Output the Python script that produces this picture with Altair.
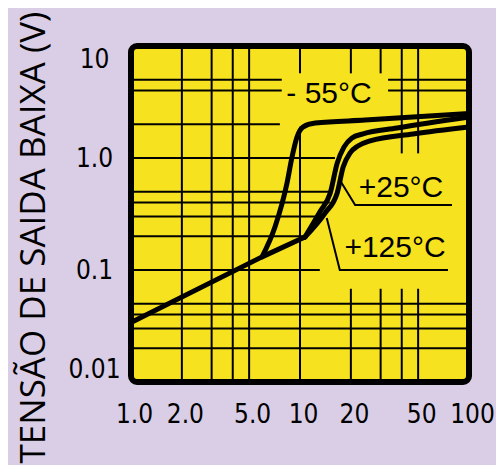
import altair as alt
import pandas as pd

# ---------------- data ----------------
x_tick_values = [1, 2, 5, 10, 20, 50, 100]
x_tick_labels = ["1.0", "2.0", "5.0", "10", "20", "50", "100"]
y_tick_values = [0.01, 0.1, 1, 10]
y_tick_labels = ["0.01", "0.1", "1.0", "10"]
y_title = "TENSÃO DE SAIDA BAIXA (V)"

# shared low-current straight part of all three curves
shared_x = [1.0, 5.96, 10.7]
shared_y = [0.034, 0.131, 0.197]
# branches
m55_x = [5.96, 7.11, 8.38, 8.97, 9.6, 10.4, 12.3, 24.3, 100]
m55_y = [0.131, 0.242, 0.598, 1.02, 1.54, 1.89, 2.05, 2.18, 2.5]
p25_x = [10.7, 13.1, 15.1, 16.6, 18.2, 20.3, 23.6, 37.5, 100]
p25_y = [0.197, 0.33, 0.487, 0.90, 1.25, 1.51, 1.64, 1.85, 2.32]
p125_x = [10.7, 14.1, 16.6, 18.0, 19.8, 22.0, 26.0, 46.7, 100]
p125_y = [0.197, 0.324, 0.487, 0.83, 1.11, 1.28, 1.42, 1.64, 1.89]

# grid segments (hand drawn chart: partial lines)
vgrid_x = [2, 3, 4, 5, 10, 10, 20, 20, 30, 30, 40, 40, 50, 50]
vgrid_y1 = [0.01, 0.01, 0.01, 0.01, 5.7, 0.01, 5.7, 0.01, 5.7, 0.01, 1.1, 0.01, 1.1, 0.01]
vgrid_y2 = [10, 10, 10, 10, 10, 1.9, 10, 0.068, 10, 0.068, 10, 0.068, 10, 0.068]
hgrid_y = [5, 5, 4, 4, 2, 1, 0.5, 0.4, 0.3, 0.2, 0.1, 0.05, 0.04, 0.03, 0.02]
hgrid_x1 = [1, 33.2, 1, 33.2, 1, 1, 1, 1, 1, 1, 1, 1, 1, 1, 1]
hgrid_x2 = [7.8, 100, 7.8, 100, 7.6, 16.1, 15.5, 15.0, 14.0, 10.7, 13.1, 100, 100, 100, 100]

# annotations
ann_text = ["- 55°C", "+25°C", "+125°C"]
ann_x = [14.85, 39.6, 36.5]
ann_y = [3.73, 0.539, 0.157]
lead25_x = [17.2, 21.2, 79.3]
lead25_y = [0.637, 0.38, 0.38]
lead125_x = [14.4, 17.2, 75.1]
lead125_y = [0.291, 0.1, 0.1]


def rows(name, xs_, ys_):
    return [(name, i, x, y) for i, (x, y) in enumerate(zip(xs_, ys_))]


# ---------------- tables ----------------
shared = pd.DataFrame(rows("shared", shared_x, shared_y), columns=["s", "o", "x", "y"])
branches = pd.DataFrame(
    rows("-55", m55_x, m55_y) + rows("+25", p25_x, p25_y) + rows("+125", p125_x, p125_y),
    columns=["s", "o", "x", "y"],
)
vgrid = pd.DataFrame({"x": vgrid_x, "y1": vgrid_y1, "y2": vgrid_y2})
hgrid = pd.DataFrame({"y": hgrid_y, "x1": hgrid_x1, "x2": hgrid_x2})
ann = pd.DataFrame({"t": ann_text, "x": ann_x, "y": ann_y})
leaders = pd.DataFrame(
    rows("a", lead25_x, lead25_y) + rows("b", lead125_x, lead125_y),
    columns=["s", "o", "x", "y"],
)


def label_expr(values, labels):
    e = "''"
    for v, l in reversed(list(zip(values, labels))):
        e = f"datum.value == {v} ? '{l}' : ({e})"
    return e


tick_font = "DejaVu Sans Condensed, Liberation Sans, sans-serif"
xs = alt.Scale(type="log", domain=[1, 100])
ys = alt.Scale(type="log", domain=[0.01, 10])

x_axis = alt.Axis(
    values=x_tick_values, labelExpr=label_expr(x_tick_values, x_tick_labels),
    title=None, grid=False, domain=False, ticks=False, tickSize=0,
    labelFont=tick_font, labelFontSize=26, labelColor="black",
    labelPadding=19, labelOffset=3, labelOverlap=False, labelFlush=False,
)
y_axis = alt.Axis(
    values=y_tick_values, labelExpr=label_expr(y_tick_values, y_tick_labels),
    title=y_title, grid=False, domain=False, ticks=False, tickSize=0,
    labelFont=tick_font, labelFontSize=26, labelColor="black",
    labelAlign="center", labelPadding=37, labelOverlap=False, labelFlush=True,
    titleFont="Open Sans", titleFontSize=35, titleFontWeight="normal",
    titleColor="black", titleAngle=270, titleAlign="center",
    titleBaseline="middle", titleX=-98, titleY=191,
)


def X(field):
    return alt.X(field, scale=xs, axis=x_axis)


def Y(field):
    return alt.Y(field, scale=ys, axis=y_axis)


vrules = alt.Chart(vgrid).mark_rule(color="black", strokeWidth=2).encode(
    x=X("x:Q"), y=Y("y1:Q"), y2="y2:Q",
)
hrules = alt.Chart(hgrid).mark_rule(color="black", strokeWidth=2).encode(
    y=Y("y:Q"), x=X("x1:Q"), x2="x2:Q",
)
shared_line = alt.Chart(shared).mark_line(
    color="black", strokeWidth=5, interpolate="linear", strokeCap="round", strokeJoin="round"
).encode(x=X("x:Q"), y=Y("y:Q"), order="o:Q")
branch_lines = alt.Chart(branches).mark_line(
    color="black", strokeWidth=5, interpolate="monotone", strokeCap="round"
).encode(x=X("x:Q"), y=Y("y:Q"), detail="s:N", order="o:Q")
lead = alt.Chart(leaders).mark_line(color="black", strokeWidth=2).encode(
    x=X("x:Q"), y=Y("y:Q"), detail="s:N", order="o:Q",
)
texts = alt.Chart(ann).mark_text(
    font="Liberation Sans", fontSize=30, align="center", baseline="middle", color="black"
).encode(x=X("x:Q"), y=Y("y:Q"), text="t:N")

chart = alt.layer(vrules, hrules, shared_line, branch_lines, lead, texts).properties(
    width=338,
    height=336,
    background="#dacde6",
    padding={"left": 123, "top": 38, "right": 27, "bottom": 83},
    autosize=alt.AutoSizeParams(type="none"),
).configure_view(
    fill="#f6e21e", stroke="black", strokeWidth=6, cornerRadius=6
)

chart.save("out.html", embed_options={"renderer": "svg", "actions": False})
